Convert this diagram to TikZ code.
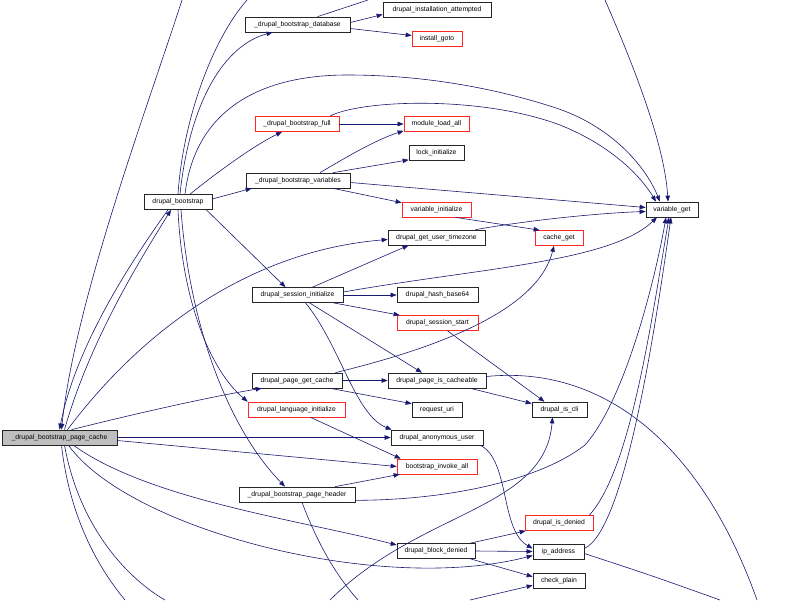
\documentclass[tikz,border=0pt]{standalone}
\usepackage{fontspec}
\setmainfont{Liberation Sans}
\usetikzlibrary{arrows.meta}
\definecolor{edgecol}{RGB}{25,25,112}
\begin{document}
\begin{tikzpicture}[x=1pt,y=-1pt,
  box/.style={draw=black!85,line width=0.7pt,inner sep=0pt,minimum height=15pt,fill=white,font=\fontsize{6.8}{8}\selectfont},
  redbox/.style={box,draw=red!85},
  rootbox/.style={box,fill=black!25},
  edge/.style={draw=edgecol,line width=0.6pt,-{Triangle[length=6pt,width=4.5pt]}},
  bare/.style={draw=edgecol,line width=0.6pt}]
\useasboundingbox (0,0) rectangle (800,600);
% nodes
\node[box,minimum width=105pt] (dbd) at (297.5,24.5) {\_drupal\_bootstrap\_database};
\node[box,minimum width=108pt] (dia) at (437,9.5) {drupal\_installation\_attempted};
\node[redbox,minimum width=50pt] (ig) at (437,38.5) {install\_goto};
\node[redbox,minimum width=84pt] (dbf) at (297,124) {\_drupal\_bootstrap\_full};
\node[redbox,minimum width=65pt] (mla) at (436.5,124) {module\_load\_all};
\node[box,minimum width=55pt] (li) at (436.5,153) {lock\_initialize};
\node[box,minimum width=104pt] (dbv) at (298,180.5) {\_drupal\_bootstrap\_variables};
\node[box,minimum width=68pt] (db) at (178,202) {drupal\_bootstrap};
\node[redbox,minimum width=69pt] (vi) at (436.5,209.5) {variable\_initialize};
\node[box,minimum width=97pt] (dgut) at (436.5,237.5) {drupal\_get\_user\_timezone};
\node[box,minimum width=52pt] (vg) at (672,209.5) {variable\_get};
\node[redbox,minimum width=48pt] (cg) at (559,238) {cache\_get};
\node[box,minimum width=91pt] (dsi) at (297.5,295) {drupal\_session\_initialize};
\node[box,minimum width=81pt] (dhb) at (437.5,295) {drupal\_hash\_base64};
\node[redbox,minimum width=81pt] (dss) at (437.5,323) {drupal\_session\_start};
\node[box,minimum width=90pt] (dpgc) at (297,380.5) {drupal\_page\_get\_cache};
\node[box,minimum width=98pt] (dpic) at (437,380.5) {drupal\_page\_is\_cacheable};
\node[redbox,minimum width=97pt] (dli) at (296.5,409.5) {drupal\_language\_initialize};
\node[box,minimum width=50pt] (ru) at (437,409.5) {request\_uri};
\node[box,minimum width=55pt] (dic) at (559.5,409.5) {drupal\_is\_cli};
\node[rootbox,minimum width=115pt] (root) at (59.5,437.5) {\_drupal\_bootstrap\_page\_cache};
\node[box,minimum width=92pt] (dau) at (437,437.5) {drupal\_anonymous\_user};
\node[redbox,minimum width=80pt] (bia) at (437,466.5) {bootstrap\_invoke\_all};
\node[box,minimum width=116pt] (dbph) at (297,494.5) {\_drupal\_bootstrap\_page\_header};
\node[box,minimum width=78pt] (dbk) at (436,551) {drupal\_block\_denied};
\node[redbox,minimum width=68pt] (did) at (559,523) {drupal\_is\_denied};
\node[box,minimum width=51pt] (ipa) at (558.5,551.5) {ip\_address};
\node[box,minimum width=52pt] (cp) at (559,580.5) {check\_plain};
% free ends
\coordinate (t1) at (182,0);
\coordinate (t2) at (247,0);
\coordinate (t3) at (368,0);
\coordinate (t4) at (605,0);
\coordinate (b1) at (125,600);
\coordinate (b2) at (165,600);
\coordinate (b3) at (330,600);
\coordinate (b4) at (358,600);
\coordinate (b5) at (470,600);
\coordinate (b6) at (720,600);
\coordinate (b7) at (757,600);
% root edges
\draw[edge] (t1) .. controls (150,100) and (75,300) .. ([xshift=2pt]root.north);
\draw[edge] ([xshift=-10pt]db.south) .. controls (125,270) and (75,350) .. (root.north);
\draw[edge] ([xshift=5pt]root.north) .. controls (90,340) and (140,260) .. ([xshift=-7pt]db.south);
\draw[edge] ([xshift=8pt]root.north) .. controls (150,320) and (260,250) .. ([yshift=-2pt]dgut.west);
\draw[edge] ([xshift=12pt]root.north) .. controls (150,410) and (220,395) .. ([xshift=10pt]dpgc.south west);
\draw[edge] (root.east) -- (dau.west);
\draw[edge] ([yshift=-3pt]root.east) -- (bia.west);
\draw[edge] ([xshift=14pt]root.south) .. controls (150,500) and (300,520) .. ([yshift=6pt]dbk.west);
\draw[edge] ([xshift=9pt]root.south) .. controls (130,530) and (380,595) .. ([yshift=-4pt]ipa.west);
\draw[bare] ([xshift=2pt]root.south) .. controls (70,520) and (100,570) .. (b1);
\draw[bare] ([xshift=5pt]root.south) .. controls (80,530) and (130,580) .. (b2);
% drupal_bootstrap
\draw[edge] ([xshift=2pt]db.north) .. controls (190,100) and (225,45) .. ([xshift=-25pt]dbd.south);
\draw[bare] (db.north) .. controls (183,120) and (212,40) .. (t2);
\draw[edge] ([xshift=12pt]db.north) .. controls (220,170) and (255,145) .. ([xshift=-15pt]dbf.south);
\draw[edge] ([xshift=7pt]db.north) .. controls (195,110) and (260,75) .. (347,75) .. controls (430,75) and (500,90) .. (553,107) .. controls (610,125) and (645,165) .. ([xshift=-12pt]vg.north);
\draw[edge] ([yshift=3pt]db.east) -- ([xshift=6pt]dbv.south west);
\draw[edge] ([xshift=-6pt]db.south east) -- ([xshift=-12pt]dsi.north);
\draw[edge] (db.south) .. controls (182,300) and (210,370) .. (dli.north west);
\draw[edge] ([xshift=3pt]db.south) .. controls (190,330) and (230,430) .. ([xshift=-12pt]dbph.north);
% _drupal_bootstrap_database
\draw[edge] ([yshift=2pt]dbd.east) -- ([yshift=-5pt]dia.west);
\draw[edge] ([yshift=-4pt]dbd.east) -- ([yshift=3pt]ig.west);
\draw[bare] ([xshift=20pt]dbd.north) -- (t3);
% _drupal_bootstrap_full
\draw[edge] (dbf.east) -- (mla.west);
\draw[edge] ([xshift=33pt]dbf.north) .. controls (360,100) and (480,95) .. (560,125) .. controls (610,145) and (640,175) .. ([xshift=-16pt]vg.north);
% _drupal_bootstrap_variables
\draw[edge] ([xshift=22pt]dbv.north) .. controls (345,158) and (375,140) .. ([yshift=1pt]mla.south west);
\draw[edge] ([xshift=35pt]dbv.north) -- ([yshift=1pt]li.south west);
\draw[edge] ([xshift=35pt]dbv.south) -- ([yshift=-1pt]vi.north west);
\draw[edge] ([yshift=-2pt]dbv.east) -- ([yshift=2pt]vg.west);
% variable_initialize, timezone
\draw[edge] ([xshift=-16pt]vi.south east) -- ([xshift=5pt]cg.north west);
\draw[edge] ([xshift=-10pt]dgut.north east) .. controls (530,220) and (600,213) .. ([yshift=-2pt]vg.west);
% drupal_session_initialize
\draw[edge] ([xshift=15pt]dsi.north) -- ([xshift=-28pt]dgut.south);
\draw[edge] ([yshift=3pt]dsi.east) .. controls (480,268) and (610,262) .. ([xshift=-15pt]vg.south);
\draw[edge] (dsi.east) -- (dhb.west);
\draw[edge] ([xshift=-10pt]dsi.south east) -- ([xshift=3pt]dss.north west);
\draw[edge] ([xshift=12pt]dsi.south) -- ([xshift=-15pt]dpic.north);
\draw[edge] ([xshift=8pt]dsi.south) .. controls (340,345) and (355,415) .. ([xshift=1pt]dau.north west);
% drupal_session_start
\draw[edge] ([xshift=10pt]dss.south) -- ([xshift=-15pt]dic.north);
% drupal_page_get_cache
\draw[edge] (dpgc.east) -- (dpic.west);
\draw[edge] ([xshift=-12pt]dpgc.south east) -- ([yshift=-2pt]ru.north west);
\draw[edge] ([xshift=-7pt]dpgc.north east) .. controls (470,340) and (540,300) .. ([xshift=-5pt]cg.south);
% drupal_page_is_cacheable
\draw[edge] ([xshift=-16pt]dpic.south east) -- ([yshift=6pt]dic.west);
\draw[bare] ([yshift=4pt]dpic.east) .. controls (600,365) and (700,440) .. (b7);
% drupal_language_initialize
\draw[edge] ([xshift=14pt]dli.south) -- ([xshift=4pt]bia.north west);
% drupal_anonymous_user
\draw[edge] ([xshift=-3pt]dau.south east) .. controls (510,460) and (500,530) .. ([yshift=3pt]ipa.west);
% _drupal_bootstrap_page_header
\draw[edge] ([xshift=38pt]dbph.north) -- ([xshift=3pt]bia.south west);
\draw[bare] ([xshift=5pt]dbph.south) .. controls (320,550) and (340,580) .. (b4);
\draw[edge] ([yshift=2pt]dbph.south east) .. controls (450,500) and (540,480) .. (585,445) .. controls (625,400) and (655,280) .. ([xshift=-6pt]vg.south);
% off-screen caller of drupal_is_cli
\draw[edge] (b3) .. controls (420,510) and (545,510) .. ([xshift=-7pt]dic.south);
% drupal_block_denied
\draw[edge] ([xshift=-5pt]dbk.north east) -- ([xshift=1pt]did.south west);
\draw[edge] (dbk.east) -- (ipa.west);
\draw[edge] ([xshift=-5pt]dbk.south east) -- ([yshift=-4pt]cp.north west);
\draw[edge] (b5) -- ([yshift=3pt]cp.south west);
% drupal_is_denied, ip_address
\draw[edge] ([xshift=-4pt]did.north east) .. controls (630,470) and (650,330) .. ([xshift=-3pt]vg.south);
\draw[edge] ([yshift=3pt]ipa.east) .. controls (625,530) and (655,330) .. ([xshift=-1pt]vg.south);
\draw[bare] ([yshift=-2pt]ipa.east) .. controls (650,575) .. (b6);
% off-screen caller of variable_get
\draw[edge] (t4) .. controls (640,80) and (665,150) .. ([xshift=-4pt]vg.north);
\end{tikzpicture}
\end{document}
